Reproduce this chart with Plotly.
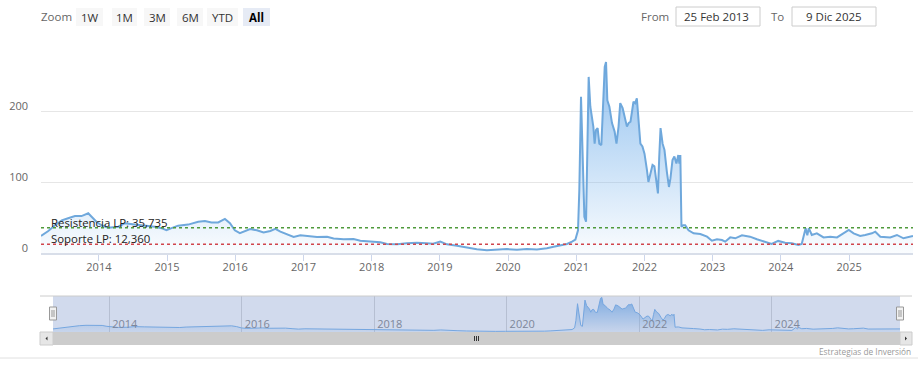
import plotly.graph_objects as go

# ---------------- data ----------------
dates = [
    "2013-02-25", "2013-04-05", "2013-05-11", "2013-06-16", "2013-07-20", "2013-08-26",
    "2013-09-30", "2013-11-05", "2013-11-23", "2013-12-19", "2014-01-15", "2014-02-20",
    "2014-04-15", "2014-05-20", "2014-07-13", "2014-09-05", "2014-10-28", "2014-12-02",
    "2014-12-29", "2015-01-25", "2015-03-01", "2015-04-24", "2015-06-17", "2015-07-23",
    "2015-08-27", "2015-10-02", "2015-11-07", "2015-12-04", "2015-12-30", "2016-01-26",
    "2016-02-14", "2016-03-21", "2016-04-26", "2016-06-01", "2016-07-07", "2016-08-03",
    "2016-08-30", "2016-10-05", "2016-11-09", "2016-12-15", "2017-02-06", "2017-03-14",
    "2017-05-07", "2017-06-11", "2017-08-04", "2017-09-26", "2017-11-01", "2017-12-24",
    "2018-02-16", "2018-03-24", "2018-05-17", "2018-07-08", "2018-08-31", "2018-10-23",
    "2018-11-26", "2019-01-03", "2019-02-08", "2019-04-03", "2019-05-26", "2019-07-18",
    "2019-09-10", "2019-11-02", "2019-12-26", "2020-02-18", "2020-04-11", "2020-06-04",
    "2020-07-27", "2020-09-01", "2020-10-07", "2020-11-12", "2020-12-09", "2020-12-27",
    "2021-01-10", "2021-01-17", "2021-01-26", "2021-02-04", "2021-02-13", "2021-02-22",
    "2021-03-08", "2021-03-17", "2021-03-26", "2021-04-02", "2021-04-09", "2021-04-16",
    "2021-04-25", "2021-05-04", "2021-05-15", "2021-05-24", "2021-06-02", "2021-06-09",
    "2021-06-16", "2021-06-27", "2021-07-11", "2021-07-25", "2021-08-04", "2021-08-15",
    "2021-08-24", "2021-09-06", "2021-09-16", "2021-09-29", "2021-10-08", "2021-10-18",
    "2021-11-03", "2021-11-12", "2021-11-21", "2021-11-30", "2021-12-10", "2021-12-21",
    "2022-01-01", "2022-01-14", "2022-01-22", "2022-02-02", "2022-02-13", "2022-02-23",
    "2022-03-04", "2022-03-14", "2022-03-21", "2022-03-28", "2022-04-08", "2022-04-18",
    "2022-05-01", "2022-05-12", "2022-05-20", "2022-05-31", "2022-06-10", "2022-06-21",
    "2022-07-01", "2022-07-07", "2022-07-12", "2022-07-18", "2022-07-28", "2022-08-07",
    "2022-08-25", "2022-09-21", "2022-10-27", "2022-12-02", "2022-12-28", "2023-01-24",
    "2023-02-20", "2023-03-09", "2023-04-05", "2023-05-02", "2023-06-07", "2023-07-20",
    "2023-08-26", "2023-10-09", "2023-11-13", "2023-12-18", "2024-01-24", "2024-02-29",
    "2024-04-04", "2024-04-22", "2024-05-04", "2024-05-13", "2024-05-22", "2024-05-30",
    "2024-06-15", "2024-07-12", "2024-08-17", "2024-09-22", "2024-10-28", "2024-12-03",
    "2024-12-30", "2025-01-25", "2025-03-01", "2025-03-28", "2025-05-03", "2025-05-21",
    "2025-06-17", "2025-08-09", "2025-09-14", "2025-10-19", "2025-11-24", "2025-12-09",
]
values = [
    24, 31, 39, 46, 49, 52,
    52, 56, 51, 44, 39, 35.5,
    37, 42, 40, 39, 37, 35,
    32, 35, 38.5, 40, 44, 45,
    43, 43, 48, 42, 32, 28,
    30, 33.8, 32, 29, 31, 34,
    30, 26, 22.5, 25, 24, 22.5,
    23, 20.5, 19.5, 19.7, 17.4, 16,
    15, 12.7, 12.2, 13.6, 14.5, 13.6,
    13, 16, 12.2, 10.3, 8, 5.2,
    4, 5, 5.5, 4.5, 5.5, 5,
    6.6, 8.9, 10.3, 12.7, 16, 19,
    32, 89, 220, 112, 51, 44,
    248, 206, 190, 178, 154, 173,
    176, 154, 152, 206, 262, 269,
    215, 206, 183, 171, 154, 178,
    211, 204, 192, 178, 183, 185,
    213, 211, 218, 187, 154, 150,
    140, 117, 100, 112, 124, 122,
    103, 84, 136, 176, 154, 145,
    114, 93, 105, 131, 136, 126,
    138, 126, 138, 37, 39, 39,
    32, 27.7, 26.8, 23, 17.4, 19.3,
    18.3, 16, 22, 20.7, 25, 23,
    19.3, 16, 12.7, 17, 14.5, 13.6,
    11.3, 12.7, 25, 35, 25, 35,
    25.4, 27.7, 22, 23, 22, 27.7,
    32.4, 27.7, 24, 25.4, 27.7, 30,
    23, 22, 25.4, 20.7, 23, 24,
]
resistencia = 35.735
soporte = 12.360
resistencia_label = "Resistencia LP: 35,735"
soporte_label = "Soporte LP: 12,360"
y_tickvals = [0, 100, 200, 300]
y_ticktext = ["0", "100", "200", ""]
zoom_buttons = ["1W", "1M", "3M", "6M", "YTD", "All"]
date_from = "25 Feb 2013"
date_to = "9 Dic 2025"
credits = "Estrategias de Inversión"

# ---------------- layout helpers ----------------
W, H = 924, 376
FONT = "Open Sans, Lato, DejaVu Sans, sans-serif"


def px(x):
    return x / W


def py(y):
    return 1 - y / H


LINE = "#6fa8dc"
fill_scale = [[0, "rgba(124,181,236,0.04)"], [1, "rgba(124,181,236,0.85)"]]

fig = go.Figure()
fig.add_trace(go.Scatter(
    x=dates, y=values, mode="lines", line=dict(color=LINE, width=2),
    fill="tozeroy",
    fillgradient=dict(type="vertical", colorscale=fill_scale, start=0, stop=275),
    xaxis="x", yaxis="y", hoverinfo="x+y", showlegend=False,
))
fig.add_trace(go.Scatter(
    x=dates, y=values, mode="lines", line=dict(color="#7cb5ec", width=1),
    fill="tozeroy",
    fillgradient=dict(type="vertical", colorscale=[[0, "rgba(124,181,236,0.1)"], [1, "rgba(124,181,236,0.9)"]],
                      start=0, stop=270),
    xaxis="x2", yaxis="y2", hoverinfo="skip", showlegend=False,
))

shapes = []
annotations = []

# support / resistance lines with their labels
shapes.append(dict(type="line", xref="x domain", yref="y", x0=0, x1=1, y0=resistencia, y1=resistencia,
                   line=dict(color="#4f9a3b", width=1.5, dash="dot")))
shapes.append(dict(type="line", xref="x domain", yref="y", x0=0, x1=1, y0=soporte, y1=soporte,
                   line=dict(color="#d0454c", width=1.5, dash="dot")))
annotations.append(dict(text=resistencia_label, xref="paper", yref="paper", x=px(48.5), y=py(222),
                        xanchor="left", yanchor="middle", showarrow=False,
                        font=dict(family=FONT, size=11.4, color="#222")))
annotations.append(dict(text=soporte_label, xref="paper", yref="paper", x=px(48.5), y=py(238),
                        xanchor="left", yanchor="middle", showarrow=False,
                        font=dict(family=FONT, size=11.4, color="#222")))

# range selector (static look)
annotations.append(dict(text="Zoom", xref="paper", yref="paper", x=px(39), y=py(16.5),
                        xanchor="left", yanchor="middle", showarrow=False,
                        font=dict(family=FONT, size=11.5, color="#666")))
btn_x = [(76, 103), (112, 137), (144, 170), (177, 203), (207, 238), (243, 270)]
for label, (a, b) in zip(zoom_buttons, btn_x):
    active = label == "All"
    shapes.append(dict(type="rect", xref="paper", yref="paper", x0=px(a), x1=px(b), y0=py(26), y1=py(8),
                       fillcolor="#e6ebf5" if active else "#f7f7f7", line=dict(width=0), layer="above"))
    annotations.append(dict(text=("<b>%s</b>" % label) if active else label, xref="paper", yref="paper",
                            x=px((a + b) / 2), y=py(17), xanchor="center", yanchor="middle", showarrow=False,
                            font=dict(family=FONT, size=11.5, color="#000" if active else "#333")))

# date inputs
annotations.append(dict(text="From", xref="paper", yref="paper", x=px(670.5), y=py(16.5), xanchor="right",
                        yanchor="middle", showarrow=False, font=dict(family=FONT, size=11.5, color="#666")))
annotations.append(dict(text="To", xref="paper", yref="paper", x=px(786), y=py(16.5), xanchor="right",
                        yanchor="middle", showarrow=False, font=dict(family=FONT, size=11.5, color="#666")))
for (a, b), cx, txt in [((676, 760), 716.5, date_from), ((792, 876), 833.5, date_to)]:
    shapes.append(dict(type="rect", xref="paper", yref="paper", x0=px(a), x1=px(b), y0=py(26), y1=py(7),
                       fillcolor="white", line=dict(color="#cccccc", width=1)))
    annotations.append(dict(text=txt, xref="paper", yref="paper", x=px(cx), y=py(16.5),
                            xanchor="center", yanchor="middle", showarrow=False,
                            font=dict(family=FONT, size=11.5, color="#333")))

# navigator mask, outline, handles
shapes.append(dict(type="rect", xref="paper", yref="paper", x0=px(53), x1=px(900), y0=py(332), y1=py(296),
                   fillcolor="rgba(102,133,194,0.3)", line=dict(width=0), layer="above"))
shapes.append(dict(type="line", xref="paper", yref="paper", x0=px(40), x1=px(912), y0=py(296), y1=py(296),
                   line=dict(color="#cccccc", width=1)))
for hx in (53, 900):
    shapes.append(dict(type="rect", xref="paper", yref="paper", x0=px(hx - 3.5), x1=px(hx + 3.5),
                       y0=py(320), y1=py(307), fillcolor="#f2f2f2", line=dict(color="#999999", width=1),
                       layer="above"))
    for dx in (-1, 1):
        shapes.append(dict(type="line", xref="paper", yref="paper", x0=px(hx + dx), x1=px(hx + dx),
                           y0=py(317), y1=py(310), line=dict(color="#999999", width=1), layer="above"))

# scrollbar
shapes.append(dict(type="rect", xref="paper", yref="paper", x0=px(40), x1=px(912), y0=py(345), y1=py(332),
                   fillcolor="#cccccc", line=dict(width=0)))
for a, b in [(40, 53), (900, 912)]:
    shapes.append(dict(type="rect", xref="paper", yref="paper", x0=px(a), x1=px(b), y0=py(345), y1=py(332),
                       fillcolor="#e6e6e6", line=dict(color="#cccccc", width=1)))
shapes.append(dict(type="path", xref="paper", yref="paper",
                   path="M %f %f L %f %f L %f %f Z" % (px(45.5), py(338.5), px(47.5), py(336.5), px(47.5), py(340.5)),
                   fillcolor="#333", line=dict(width=0)))
shapes.append(dict(type="path", xref="paper", yref="paper",
                   path="M %f %f L %f %f L %f %f Z" % (px(907), py(338.5), px(905), py(336.5), px(905), py(340.5)),
                   fillcolor="#333", line=dict(width=0)))
for gx in (474.5, 476.5, 478.5):
    shapes.append(dict(type="line", xref="paper", yref="paper", x0=px(gx), x1=px(gx), y0=py(336), y1=py(341),
                       line=dict(color="#333", width=1)))

# bottom separator and credits
shapes.append(dict(type="line", xref="paper", yref="paper", x0=0, x1=px(918), y0=py(358), y1=py(358),
                   line=dict(color="#e0e0e0", width=1)))
annotations.append(dict(text=credits, xref="paper", yref="paper", x=px(913), y=py(351), xanchor="right",
                        yanchor="middle", showarrow=False, font=dict(family=FONT, size=8.3, color="#999")))

x_range = [dates[0], dates[-1]]

fig.update_layout(
    width=W, height=H, margin=dict(l=0, r=0, t=0, b=0, pad=0, autoexpand=False),
    paper_bgcolor="white", plot_bgcolor="white",
    font=dict(family=FONT, size=11, color="#666"),
    showlegend=False,
    xaxis=dict(domain=[px(41), px(913)], range=x_range, anchor="y", type="date", automargin=False,
               tick0="2014-01-01", dtick="M12", tickformat="%Y",
               showgrid=False, zeroline=False, showline=True, linecolor="#d8dee9", linewidth=2,
               ticks="outside", ticklen=6, tickcolor="#ccd6eb", tickwidth=1, ticklabelstandoff=-3,
               tickfont=dict(family=FONT, size=11, color="#666")),
    yaxis=dict(domain=[py(253), py(40)], range=[0, 300], anchor="x", automargin=False,
               tickvals=y_tickvals, ticktext=y_ticktext,
               showgrid=True, gridcolor="#e6e6e6", gridwidth=1, zeroline=False, showline=False,
               ticks="", ticklabelstandoff=12, ticklabelshift=-5,
               tickfont=dict(family=FONT, size=11, color="#666")),
    xaxis2=dict(domain=[px(53), px(900)], range=x_range, anchor="y2", type="date", automargin=False,
                tick0="2014-01-01", dtick="M24", tickformat="%Y",
                showgrid=True, gridcolor="#d9d9d9", zeroline=False, showline=False, ticks="",
                ticklabelposition="inside right", ticklabelstandoff=-4, ticklabelshift=3,
                tickfont=dict(family=FONT, size=11, color="#888")),
    yaxis2=dict(domain=[py(332), py(296)], range=[0, 280], anchor="x2", automargin=False,
                showgrid=False, zeroline=False, showticklabels=False, ticks=""),
    shapes=shapes, annotations=annotations,
)

# the page body gets no default margin, so the figure sits at the window's top-left corner
post = """
var de=document.documentElement, b=document.body;
de.style.margin='0'; de.style.padding='0'; de.style.overflow='hidden';
b.style.margin='0'; b.style.padding='0'; b.style.overflow='hidden';
"""

fig.write_html("out.html", config={"displayModeBar": False}, post_script=post)
